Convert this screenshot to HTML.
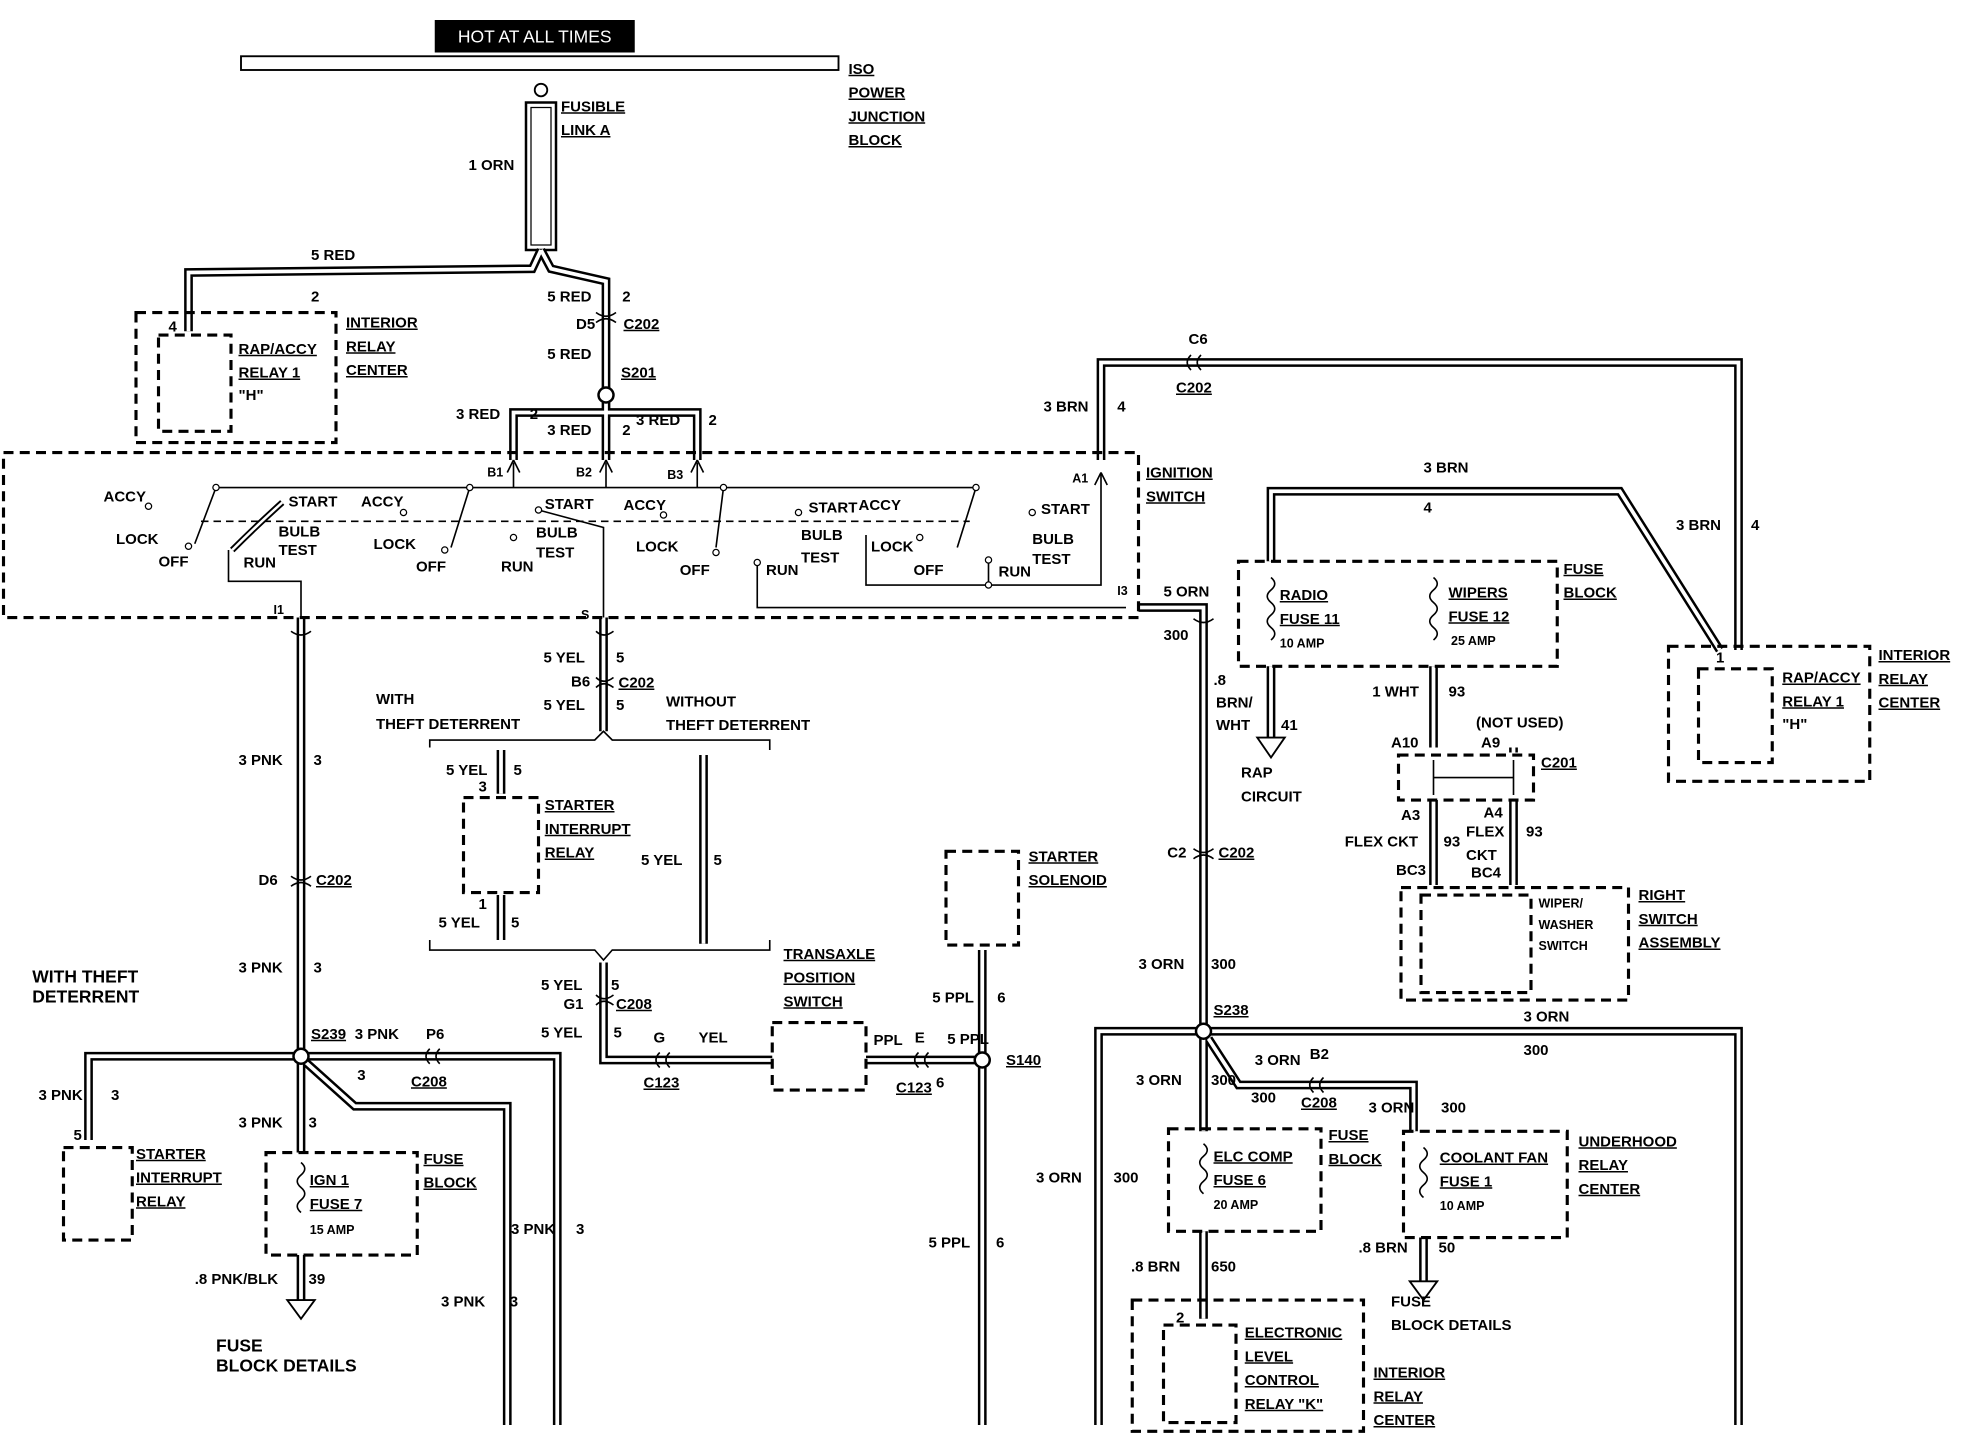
<!DOCTYPE html>
<html><head><meta charset="utf-8"><style>
html,body{margin:0;padding:0;background:#fff}
svg{display:block}
text{font-family:"Liberation Sans",sans-serif;font-size:12px;font-weight:bold;fill:#000}
.u{text-decoration:underline}
.d{fill:none;stroke:#000;stroke-width:2.5;stroke-dasharray:8 5}
.t{fill:none;stroke:#000;stroke-width:1.3}
</style></head><body>
<svg width="1962" height="1440" viewBox="0 0 1568 1152" xmlns="http://www.w3.org/2000/svg">
<rect width="1568" height="1152" fill="#fff"/>
<!-- header -->
<rect x="347" y="16" width="160" height="26" fill="#000"/>
<text x="427" y="34" text-anchor="middle" style="fill:#fff;font-weight:normal;font-size:14px">HOT AT ALL TIMES</text>
<rect x="192" y="45" width="478" height="11" fill="#fff" stroke="#000" stroke-width="1.5"/>
<g class="u"><text x="678" y="59">ISO</text><text x="678" y="78">POWER</text><text x="678" y="97">JUNCTION</text><text x="678" y="116">BLOCK</text></g>
<circle cx="432" cy="72" r="5" fill="#fff" stroke="#000" stroke-width="1.5"/>
<rect x="420" y="82" width="24" height="118" fill="#fff" stroke="#000" stroke-width="2"/>
<rect x="424" y="86" width="16" height="110" fill="none" stroke="#000" stroke-width="1"/>
<text x="448" y="89" class="u">FUSIBLE</text><text x="448" y="108" class="u">LINK A</text>
<text x="374" y="136">1 ORN</text>

<!-- wires (double line) -->
<g id="W" fill="none">
<path d="M432 200 L425 215 L150 218 L150 265"/>
<path d="M432 200 L440 215 L484 225 L484 316"/>
<path d="M410 368 L410 330 L557 330 L557 368"/>
<path d="M484 322 L484 368"/>
<path d="M880 368 L880 290 L1390 290 L1390 520"/>
<path d="M910 486 L962 486 L962 820"/>
<path d="M240 494 L240 840"/>
<path d="M482 494 L482 585"/>
<path d="M400 600 L400 635"/><path d="M400 716 L400 752"/>
<path d="M562 604 L562 755"/>
<path d="M482 770 L482 848 L617 848"/>
<path d="M692 848 L780 848"/>
<path d="M785 760 L785 842"/><path d="M785 854 L785 1140"/>
<path d="M234 845 L70 845 L70 912"/>
<path d="M246 845 L445 845 L445 1140"/>
<path d="M244 850 L283 885 L405 885 L405 1140"/>
<path d="M240 851 L240 922"/>
<path d="M240 1004 L240 1040"/>
<path d="M1016 449 L1016 393 L1295 393 L1375 520"/>
<path d="M1016 533 L1016 590"/>
<path d="M1146 533 L1146 598"/>
<path d="M1210 598 L1210 602"/>
<path d="M1146 640 L1146 708"/><path d="M1210 640 L1210 708"/>
<path d="M956 825 L878 825 L878 1140"/>
<path d="M968 825 L1390 825 L1390 1140"/>
<path d="M966 831 L990 868 L1130 868 L1130 905"/>
<path d="M962 831 L962 905"/>
<path d="M962 985 L962 1055"/>
<path d="M1138 990 L1138 1025"/>
</g>
<use href="#W" stroke="#000" stroke-width="7"/>
<use href="#W" stroke="#fff" stroke-width="3"/>

<!-- arrows -->
<g fill="#fff" stroke="#000" stroke-width="1.5">
<path d="M229 1040 L251 1040 L240 1055 Z"/>
<path d="M1005 590 L1027 590 L1016 606 Z"/>
<path d="M1127 1025 L1149 1025 L1138 1040 Z"/>
</g>
<!-- splice circles -->
<g fill="#fff" stroke="#000" stroke-width="2">
<circle cx="484" cy="316" r="6"/><circle cx="240" cy="845" r="6"/>
<circle cx="785" cy="848" r="6"/><circle cx="962" cy="825" r="6"/>
</g>
<!-- connectors -->
<g class="t" stroke-width="2">
<path d="M476 250 Q484 256 492 250 M476 258 Q484 252 492 258"/>
<path d="M476 542 Q482 548 490 542 M476 550 Q482 544 490 550"/>
<path d="M232 701 Q240 707 248 701 M232 709 Q240 703 248 709"/>
<path d="M954 679 Q962 685 970 679 M954 687 Q962 681 970 687"/>
<path d="M476 796 Q482 802 490 796 M476 804 Q482 798 490 804"/>
<path d="M952 284 Q946 290 952 296 M960 284 Q954 290 960 296"/>
<path d="M343 839 Q337 845 343 851 M351 839 Q345 845 351 851"/>
<path d="M527 842 Q521 848 527 854 M535 842 Q529 848 535 854"/>
<path d="M734 842 Q728 848 734 854 M742 842 Q736 848 742 854"/>
<path d="M1050 862 Q1044 868 1050 874 M1058 862 Q1052 868 1058 874"/>
<path d="M232 505 Q240 511 248 505 M476 505 Q482 511 490 505 M954 495 Q962 501 970 495"/>
</g>

<!-- relay center top-left -->
<rect x="108" y="250" width="160" height="104" class="d"/>
<rect x="126" y="268" width="58" height="77" class="d"/>
<text x="134" y="265">4</text>
<g class="u"><text x="190" y="283">RAP/ACCY</text><text x="190" y="302">RELAY 1</text></g><text x="190" y="320">"H"</text>
<g class="u"><text x="276" y="262">INTERIOR</text><text x="276" y="281">RELAY</text><text x="276" y="300">CENTER</text></g>
<text x="248" y="208">5 RED</text><text x="248" y="241">2</text>
<text x="437" y="241">5 RED</text><text x="497" y="241">2</text>
<text x="460" y="263">D5</text><text x="498" y="263" class="u">C202</text>
<text x="437" y="287">5 RED</text><text x="496" y="302" class="u">S201</text>
<text x="364" y="335">3 RED</text><text x="423" y="335">2</text>
<text x="437" y="348">3 RED</text><text x="497" y="348">2</text>
<text x="508" y="340">3 RED</text><text x="566" y="340">2</text>

<!-- ignition switch -->
<rect x="2" y="362" width="908" height="132" class="d"/>
<g class="u"><text x="916" y="382">IGNITION</text><text x="916" y="401">SWITCH</text></g>
<text x="389" y="381" style="font-size:10px">B1</text><text x="460" y="381" style="font-size:10px">B2</text><text x="533" y="383" style="font-size:10px">B3</text>
<text x="857" y="386" style="font-size:10px">A1</text><text x="893" y="476" style="font-size:10px">I3</text>
<text x="218" y="491" style="font-size:10px">I1</text><text x="464" y="495" style="font-size:10px">S</text>
<g class="t">
<path d="M172 390 L780 390 M172 390 L155 435 M375 390 L360 438 M578 390 L572 438 M780 390 L765 438"/>
<path d="M410 370 L410 390 M484 370 L484 390 M557 370 L557 390"/>
<path d="M160 417 L775 417" stroke-dasharray="6 4"/>
<path d="M182 440 L182 465 L240 465 L240 494"/>
<path d="M225 402 Q205 420 185 440" stroke-width="5"/><path d="M225 402 Q205 420 185 440" stroke="#fff" stroke-width="2"/>
<path d="M430 408 L482 422 L482 494"/>
<path d="M605 450 L605 486 L900 486"/>
<path d="M692 428 L692 468 L790 468 L790 448 M790 468 L880 468 L880 378"/>
<path d="M880 378 L875 388 M880 378 L885 388 M410 368 L405 378 M410 368 L415 378 M484 368 L479 378 M484 368 L489 378 M557 368 L552 378 M557 368 L562 378"/>
</g>
<g style="font-size:10px">
<text x="82" y="401">ACCY</text><text x="92" y="435">LOCK</text><text x="126" y="453">OFF</text>
<text x="230" y="405">START</text><text x="222" y="429">BULB</text><text x="222" y="444">TEST</text><text x="194" y="454">RUN</text>
<text x="288" y="405">ACCY</text><text x="298" y="439">LOCK</text><text x="332" y="457">OFF</text>
<text x="435" y="407">START</text><text x="428" y="430">BULB</text><text x="428" y="446">TEST</text><text x="400" y="457">RUN</text>
<text x="498" y="408">ACCY</text><text x="508" y="441">LOCK</text><text x="543" y="460">OFF</text>
<text x="646" y="410">START</text><text x="686" y="408">ACCY</text><text x="640" y="432">BULB</text><text x="640" y="450">TEST</text><text x="612" y="460">RUN</text>
<text x="696" y="441">LOCK</text><text x="730" y="460">OFF</text>
<text x="832" y="411">START</text><text x="825" y="435">BULB</text><text x="825" y="451">TEST</text><text x="798" y="461">RUN</text>
</g>
<g fill="#fff" stroke="#000" stroke-width="1">
<circle cx="118" cy="405" r="2.5"/><circle cx="150" cy="437" r="2.5"/><circle cx="172" cy="390" r="2.5"/>
<circle cx="322" cy="410" r="2.5"/><circle cx="355" cy="440" r="2.5"/><circle cx="375" cy="390" r="2.5"/>
<circle cx="530" cy="412" r="2.5"/><circle cx="572" cy="442" r="2.5"/><circle cx="578" cy="390" r="2.5"/>
<circle cx="638" cy="410" r="2.5"/><circle cx="735" cy="430" r="2.5"/><circle cx="780" cy="390" r="2.5"/>
<circle cx="825" cy="410" r="2.5"/><circle cx="790" cy="448" r="2.5"/><circle cx="790" cy="468" r="2.5"/>
<circle cx="430" cy="408" r="2.5"/><circle cx="605" cy="450" r="2.5"/><circle cx="410" cy="430" r="2.5"/>
</g>

<!-- A1 / I3 labels -->
<text x="950" y="275">C6</text><text x="940" y="314" class="u">C202</text>
<text x="834" y="329">3 BRN</text><text x="893" y="329">4</text>
<text x="930" y="477">5 ORN</text><text x="930" y="512">300</text>
<text x="933" y="686">C2</text><text x="974" y="686" class="u">C202</text>
<text x="910" y="775">3 ORN</text><text x="968" y="775">300</text>

<!-- left column labels -->
<text x="190" y="612">3 PNK</text><text x="250" y="612">3</text>
<text x="206" y="708">D6</text><text x="252" y="708" class="u">C202</text>
<text x="190" y="778">3 PNK</text><text x="250" y="778">3</text>
<text x="25" y="786" style="font-size:14px">WITH THEFT</text><text x="25" y="802" style="font-size:14px">DETERRENT</text>
<text x="248" y="831" class="u">S239</text><text x="283" y="831">3 PNK</text><text x="340" y="831">P6</text>
<text x="328" y="869" class="u">C208</text><text x="285" y="864">3</text>
<text x="30" y="880">3 PNK</text><text x="88" y="880">3</text><text x="58" y="912">5</text>
<rect x="50" y="918" width="55" height="74" class="d"/>
<g class="u"><text x="108" y="927">STARTER</text><text x="108" y="946">INTERRUPT</text><text x="108" y="965">RELAY</text></g>
<text x="190" y="902">3 PNK</text><text x="246" y="902">3</text>
<rect x="212" y="922" width="121" height="82" class="d"/>
<path d="M240 930 Q246 935 240 940 Q234 945 240 950 Q246 955 240 960 Q234 965 240 970" class="t" stroke-width="1.5"/>
<g class="u"><text x="247" y="948">IGN 1</text><text x="247" y="967">FUSE 7</text></g><text x="247" y="987" style="font-size:10px">15 AMP</text>
<g class="u"><text x="338" y="931">FUSE</text><text x="338" y="950">BLOCK</text></g>
<text x="408" y="987">3 PNK</text><text x="460" y="987">3</text>
<text x="352" y="1045">3 PNK</text><text x="407" y="1045">3</text>
<text x="155" y="1027">.8 PNK/BLK</text><text x="246" y="1027">39</text>
<text x="172" y="1081" style="font-size:14px">FUSE</text><text x="172" y="1097" style="font-size:14px">BLOCK DETAILS</text>

<!-- middle -->
<text x="434" y="530">5 YEL</text><text x="492" y="530">5</text>
<text x="456" y="549">B6</text><text x="494" y="550" class="u">C202</text>
<text x="434" y="568">5 YEL</text><text x="492" y="568">5</text>
<text x="300" y="563">WITH</text><text x="300" y="583">THEFT DETERRENT</text>
<text x="532" y="565">WITHOUT</text><text x="532" y="584">THEFT DETERRENT</text>
<path d="M343 598 L343 592 L475 592 L482 585 L489 592 L615 592 L615 600" class="t" stroke-width="1.5"/>
<path d="M343 752 L343 760 L475 760 L482 768 L489 760 L615 760 L615 752" class="t" stroke-width="1.5"/>
<text x="356" y="620">5 YEL</text><text x="410" y="620">5</text><text x="382" y="633">3</text>
<rect x="370" y="638" width="60" height="76" class="d"/>
<g class="u"><text x="435" y="648">STARTER</text><text x="435" y="667">INTERRUPT</text><text x="435" y="686">RELAY</text></g>
<text x="382" y="727">1</text><text x="350" y="742">5 YEL</text><text x="408" y="742">5</text>
<text x="512" y="692">5 YEL</text><text x="570" y="692">5</text>
<text x="432" y="792">5 YEL</text><text x="488" y="792">5</text>
<text x="450" y="807">G1</text><text x="492" y="807" class="u">C208</text>
<text x="432" y="830">5 YEL</text><text x="490" y="830">5</text>
<text x="522" y="834">G</text><text x="558" y="834">YEL</text><text x="514" y="870" class="u">C123</text>
<rect x="617" y="818" width="75" height="54" class="d"/>
<g class="u"><text x="626" y="767">TRANSAXLE</text><text x="626" y="786">POSITION</text><text x="626" y="805">SWITCH</text></g>
<text x="698" y="836">PPL</text><text x="731" y="834">E</text><text x="716" y="874" class="u">C123</text><text x="748" y="870">6</text>
<text x="757" y="835">5 PPL</text>
<rect x="756" y="681" width="58" height="75" class="d"/>
<g class="u"><text x="822" y="689">STARTER</text><text x="822" y="708">SOLENOID</text></g>
<text x="745" y="802">5 PPL</text><text x="797" y="802">6</text>
<text x="804" y="852" class="u">S140</text>
<text x="742" y="998">5 PPL</text><text x="796" y="998">6</text>

<!-- right: fuse block -->
<rect x="990" y="449" width="255" height="84" class="d"/>
<g class="u"><text x="1250" y="459">FUSE</text><text x="1250" y="478">BLOCK</text></g>
<path d="M1016 462 Q1022 467 1016 472 Q1010 477 1016 482 Q1022 487 1016 492 Q1010 497 1016 502 Q1022 507 1016 512 M1146 462 Q1152 467 1146 472 Q1140 477 1146 482 Q1152 487 1146 492 Q1140 497 1146 502 Q1152 507 1146 512" class="t" stroke-width="1.5"/>
<g class="u"><text x="1023" y="480">RADIO</text><text x="1023" y="499">FUSE 11</text><text x="1158" y="478">WIPERS</text><text x="1158" y="497">FUSE 12</text></g>
<text x="1023" y="518" style="font-size:10px">10 AMP</text><text x="1160" y="516" style="font-size:10px">25 AMP</text>
<text x="1138" y="378">3 BRN</text><text x="1138" y="410">4</text>
<text x="1340" y="424">3 BRN</text><text x="1400" y="424">4</text>
<text x="970" y="548">.8</text><text x="972" y="566">BRN/</text><text x="972" y="584">WHT</text><text x="1024" y="584">41</text>
<text x="992" y="622">RAP</text><text x="992" y="641">CIRCUIT</text>
<text x="1097" y="557">1 WHT</text><text x="1158" y="557">93</text>
<text x="1180" y="582">(NOT USED)</text>
<text x="1112" y="598">A10</text><text x="1184" y="598">A9</text>
<rect x="1118" y="604" width="108" height="36" class="d"/>
<path d="M1146 608 L1146 636 M1146 622 L1210 622 M1210 608 L1210 636" class="t" stroke-width="4"/>
<text x="1232" y="614" class="u">C201</text>
<text x="1120" y="656">A3</text><text x="1186" y="654">A4</text>
<text x="1075" y="677">FLEX CKT</text><text x="1154" y="677">93</text>
<text x="1172" y="669">FLEX</text><text x="1172" y="688">CKT</text><text x="1220" y="669">93</text>
<text x="1116" y="700">BC3</text><text x="1176" y="702">BC4</text>
<rect x="1120" y="710" width="182" height="90" class="d"/>
<rect x="1136" y="716" width="88" height="78" class="d"/>
<text x="1230" y="726" style="font-size:10px">WIPER/</text><text x="1230" y="743" style="font-size:10px">WASHER</text><text x="1230" y="760" style="font-size:10px">SWITCH</text>
<g class="u"><text x="1310" y="720">RIGHT</text><text x="1310" y="739">SWITCH</text><text x="1310" y="758">ASSEMBLY</text></g>
<rect x="1334" y="517" width="161" height="108" class="d"/>
<rect x="1358" y="535" width="59" height="75" class="d"/>
<text x="1372" y="530">1</text>
<g class="u"><text x="1425" y="546">RAP/ACCY</text><text x="1425" y="565">RELAY 1</text></g><text x="1425" y="583">"H"</text>
<g class="u"><text x="1502" y="528">INTERIOR</text><text x="1502" y="547">RELAY</text><text x="1502" y="566">CENTER</text></g>

<!-- right bottom -->
<text x="970" y="812" class="u">S238</text><text x="1218" y="817">3 ORN</text><text x="1218" y="844">300</text>
<text x="1003" y="852">3 ORN</text><text x="1047" y="847">B2</text><text x="1040" y="886" class="u">C208</text>
<text x="1000" y="882">300</text><text x="968" y="868">300</text><text x="908" y="868">3 ORN</text>
<text x="1094" y="890">3 ORN</text><text x="1152" y="890">300</text>
<text x="828" y="946">3 ORN</text><text x="890" y="946">300</text>
<rect x="934" y="903" width="122" height="82" class="d"/>
<path d="M962 915 Q968 920 962 925 Q956 930 962 935 Q968 940 962 945 Q956 950 962 955" class="t" stroke-width="1.5"/>
<g class="u"><text x="970" y="929">ELC COMP</text><text x="970" y="948">FUSE 6</text></g><text x="970" y="967" style="font-size:10px">20 AMP</text>
<g class="u"><text x="1062" y="912">FUSE</text><text x="1062" y="931">BLOCK</text></g>
<rect x="1122" y="905" width="131" height="85" class="d"/>
<path d="M1138 918 Q1144 923 1138 928 Q1132 933 1138 938 Q1144 943 1138 948 Q1132 953 1138 958" class="t" stroke-width="1.5"/>
<g class="u"><text x="1151" y="930">COOLANT FAN</text><text x="1151" y="949">FUSE 1</text></g><text x="1151" y="968" style="font-size:10px">10 AMP</text>
<g class="u"><text x="1262" y="917">UNDERHOOD</text><text x="1262" y="936">RELAY</text><text x="1262" y="955">CENTER</text></g>
<text x="1086" y="1002">.8 BRN</text><text x="1150" y="1002">50</text>
<text x="1112" y="1045">FUSE</text><text x="1112" y="1064">BLOCK DETAILS</text>
<text x="904" y="1017">.8 BRN</text><text x="968" y="1017">650</text>
<rect x="905" y="1040" width="185" height="105" class="d"/>
<rect x="930" y="1060" width="58" height="78" class="d"/>
<text x="940" y="1058">2</text>
<g class="u"><text x="995" y="1070">ELECTRONIC</text><text x="995" y="1089">LEVEL</text><text x="995" y="1108">CONTROL</text><text x="995" y="1127">RELAY "K"</text></g>
<g class="u"><text x="1098" y="1102">INTERIOR</text><text x="1098" y="1121">RELAY</text><text x="1098" y="1140">CENTER</text></g>
</svg>
</body></html>
